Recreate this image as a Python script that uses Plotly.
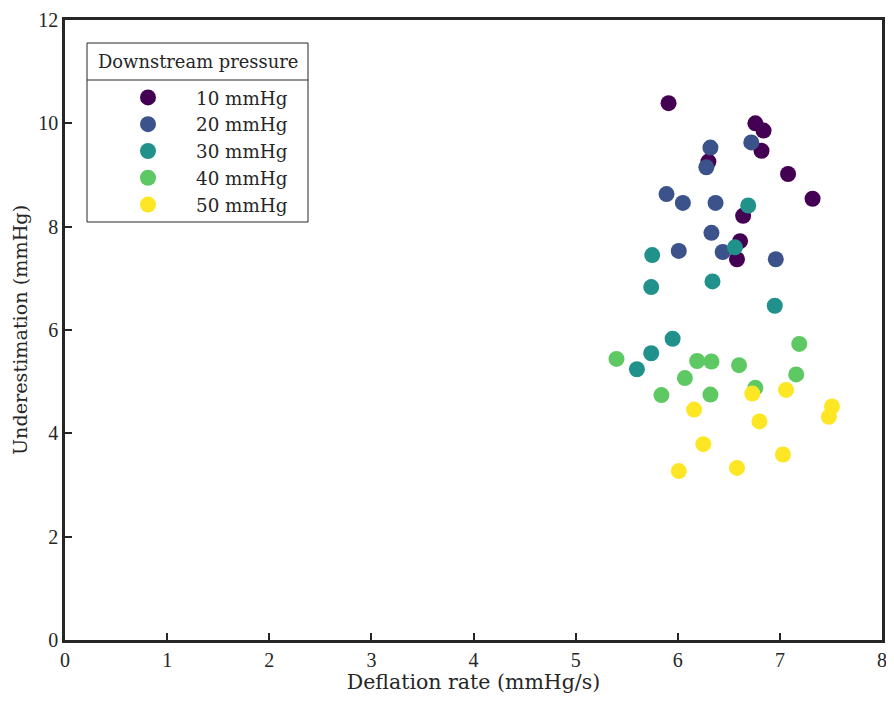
import plotly.graph_objects as go

groups = ["10 mmHg", "20 mmHg", "30 mmHg", "40 mmHg", "50 mmHg"]
colors = ["#440154", "#3b528b", "#21918c", "#5ec962", "#fde725"]

rate_10 = [5.91, 6.76, 6.84, 6.82, 6.30, 7.08, 7.32, 6.64, 6.61, 6.58]
under_10 = [10.39, 10.00, 9.86, 9.47, 9.26, 9.02, 8.54, 8.21, 7.72, 7.37]

rate_20 = [6.32, 6.72, 6.28, 5.89, 6.05, 6.37, 6.33, 6.01, 6.44, 6.96]
under_20 = [9.53, 9.63, 9.15, 8.63, 8.46, 8.46, 7.88, 7.53, 7.51, 7.37]

rate_30 = [6.69, 6.56, 5.75, 5.74, 6.34, 6.95, 5.95, 5.74, 5.60]
under_30 = [8.41, 7.60, 7.45, 6.83, 6.94, 6.47, 5.83, 5.55, 5.24]

rate_40 = [7.19, 5.40, 6.19, 6.33, 6.60, 6.07, 7.16, 6.76, 5.84, 6.32]
under_40 = [5.73, 5.44, 5.40, 5.39, 5.32, 5.07, 5.14, 4.88, 4.74, 4.75]

rate_50 = [6.73, 7.06, 7.51, 7.48, 6.16, 6.80, 6.25, 7.03, 6.58, 6.01]
under_50 = [4.77, 4.84, 4.52, 4.32, 4.46, 4.23, 3.79, 3.59, 3.33, 3.27]

x_ticks = [0, 1, 2, 3, 4, 5, 6, 7, 8]
y_ticks = [0, 2, 4, 6, 8, 10, 12]

legend_title = "Downstream pressure"

rates = [rate_10, rate_20, rate_30, rate_40, rate_50]
unders = [under_10, under_20, under_30, under_40, under_50]

TICKFONT = "Liberation Serif"
TEXTFONT = "DejaVu Serif"
AX = "#262626"

# page body has an 8px margin
OFF = 8
W, H = 886, 702 - 2 * OFF
PL, PR, PT, PB = 65, 882, 20, 640          # plot area in window pixels
ML, MR, MT, MB = PL - OFF, OFF + W - PR, PT - OFF, OFF + H - PB
PW, PH = PR - PL, PB - PT


def px_x(p):
    return (p - PL) / PW


def px_y(p):
    return (PB - p) / PH


fig = go.Figure()
for name, c, xs, ys in zip(groups, colors, rates, unders):
    fig.add_trace(go.Scatter(
        x=xs, y=ys, mode="markers", name=name,
        marker=dict(size=16, color=c, line=dict(width=0)),
    ))

axis_common = dict(
    showgrid=False, zeroline=False, showline=True, linecolor=AX, linewidth=2.5,
    mirror=True, ticks="inside", ticklen=7, tickwidth=2, tickcolor=AX,
    tickfont=dict(family=TICKFONT, size=20, color=AX), automargin=False,
)

fig.update_layout(
    width=W, height=H,
    margin=dict(l=ML, r=MR, t=MT, b=MB),
    paper_bgcolor="white", plot_bgcolor="white",
    font=dict(family=TEXTFONT, size=18, color=AX),
    xaxis=dict(range=[0, 8], tickvals=x_ticks,
               title=dict(text="Deflation rate (mmHg/s)", font=dict(family=TEXTFONT, size=20.5, color=AX), standoff=5),
               **axis_common),
    yaxis=dict(range=[0, 12], tickvals=y_ticks,
               title=dict(text="Underestimation (mmHg)", font=dict(family=TEXTFONT, size=19.2, color=AX), standoff=6),
               **axis_common),
    legend=dict(
        x=px_x(100), y=px_y(79), xanchor="left", yanchor="top",
        borderwidth=0, bgcolor="rgba(0,0,0,0)",
        font=dict(family=TEXTFONT, size=18.3, color=AX),
        itemwidth=86, tracegroupgap=0,
    ),
    showlegend=True,
    shapes=[
        dict(type="rect", xref="paper", yref="paper",
             x0=px_x(87), x1=px_x(308), y0=px_y(222), y1=px_y(43),
             line=dict(color=AX, width=1), fillcolor="white", layer="below"),
        dict(type="line", xref="paper", yref="paper",
             x0=px_x(87), x1=px_x(308), y0=px_y(80), y1=px_y(80),
             line=dict(color=AX, width=1)),
    ],
    annotations=[
        dict(text=legend_title, xref="paper", yref="paper",
             x=px_x(198), y=px_y(61), xanchor="center", yanchor="middle",
             showarrow=False, font=dict(family=TEXTFONT, size=17.9, color=AX)),
    ],
)

fig.write_html("out.html")
